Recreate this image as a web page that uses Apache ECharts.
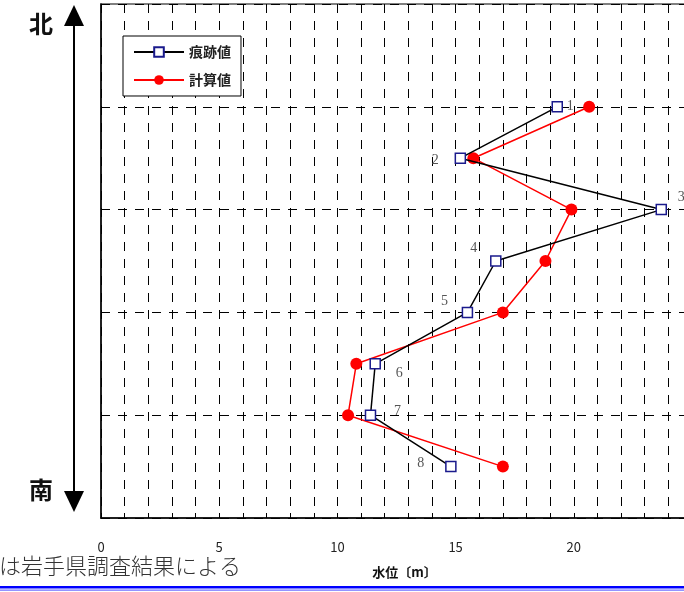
<!DOCTYPE html>
<html>
<head>
<meta charset="utf-8">
<script src="https://cdn.jsdelivr.net/npm/echarts@6/dist/echarts.min.js"></script>
<style>
  html, body { margin: 0; padding: 0; background: #fff; }
  #chart { width: 684px; height: 592px; }
</style>
</head>
<body>
<div id="chart"></div>
<script>
// point numbers (north to south) and their position along the coast
const pointNames = ['1', '2', '3', '4', '5', '6', '7', '8'];
const pointPos = [2, 3, 4, 5, 6, 7, 8, 9];
// water level [m]
const traceValues = [19.3, 15.2, 23.7, 16.7, 15.5, 11.6, 11.4, 14.8];
const calcValues = [20.65, 15.75, 19.9, 18.8, 17.0, 10.8, 10.45, 17.0];
const xTicks = [0, 5, 10, 15, 20];

// where each point number sits relative to its marker
const labelOffsets = [[13, 0], [-25, 2], [20, -12], [-22, -13], [-23, -11], [24, 10], [27, -4], [-30, -3]];

const chart = echarts.init(document.getElementById('chart'));

const dashed = { color: '#000', type: [9, 8], width: 1 };

const option = {
  animation: false,
  textStyle: { fontFamily: '"Noto Sans CJK JP", sans-serif' },
  grid: {
    left: 101, top: 4, right: -8, bottom: 74,
    outerBoundsMode: 'none',
    containLabel: false,
    show: true, borderColor: '#555', borderWidth: 1.5
  },
  legend: {
    orient: 'vertical',
    left: 123, top: 36,
    padding: [9, 10, 9, 10],
    itemWidth: 50, itemHeight: 12, itemGap: 14,
    backgroundColor: '#fff',
    borderColor: '#000', borderWidth: 1,
    textStyle: { fontSize: 14, fontWeight: 'bold', color: '#222' },
    data: ['痕跡値', '計算値']
  },
  xAxis: {
    type: 'value',
    min: 0, max: 25, interval: 5,
    name: '水位〔m〕',
    nameLocation: 'middle',
    nameGap: 48,
    nameTextStyle: { fontSize: 13, fontWeight: 'bold', color: '#111', padding: [0, 0, 0, 16] },
    axisLine: { show: true, onZero: false, lineStyle: { color: '#000', width: 1.5 } },
    axisTick: { show: true, inside: true, length: 5, lineStyle: { color: '#000' } },
    minorTick: { show: true, splitNumber: 5, length: 5, lineStyle: { color: '#000' } },
    axisLabel: {
      margin: 23, fontSize: 13, color: '#222',
      formatter: v => (xTicks.indexOf(v) >= 0 ? String(v) : '')
    },
    splitLine: { show: true, lineStyle: dashed },
    minorSplitLine: { show: true, lineStyle: dashed }
  },
  yAxis: {
    type: 'value',
    inverse: true,
    min: 0, max: 10, interval: 2,
    axisLine: { show: true, onZero: false, lineStyle: { color: '#000', width: 1.5 } },
    axisTick: { show: false },
    minorTick: { show: false },
    axisLabel: { show: false },
    splitLine: { show: true, lineStyle: dashed }
  },
  series: [
    {
      name: '痕跡値',
      type: 'line',
      z: 3,
      data: traceValues.map((v, i) => ({
        value: [v, pointPos[i]],
        label: { offset: labelOffsets[i] }
      })),
      symbol: 'rect',
      symbolSize: 10,
      lineStyle: { color: '#000', width: 1.5 },
      itemStyle: { color: '#fff', borderColor: '#1a1a8c', borderWidth: 1.5 },
      label: {
        show: true,
        position: 'inside',
        formatter: p => pointNames[p.dataIndex],
        fontFamily: '"Liberation Serif", "DejaVu Serif", serif',
        fontSize: 14,
        color: '#555'
      }
    },
    {
      name: '計算値',
      type: 'line',
      z: 2,
      data: calcValues.map((v, i) => [v, pointPos[i]]),
      symbol: 'circle',
      symbolSize: 12,
      lineStyle: { color: '#f00', width: 1.5 },
      itemStyle: { color: '#f00' }
    }
  ],
  graphic: [
    // keep the strip left of the plot clean
    { type: 'rect', shape: { x: 82, y: 30, width: 18, height: 470 }, style: { fill: '#fff' } },
    // north-south arrow at the left
    { type: 'line', shape: { x1: 74, y1: 22, x2: 74, y2: 494 }, style: { stroke: '#000', lineWidth: 2 } },
    { type: 'polygon', shape: { points: [[74, 5], [64, 26], [84, 26]] }, style: { fill: '#000' } },
    { type: 'polygon', shape: { points: [[74, 512], [64, 491], [84, 491]] }, style: { fill: '#000' } },
    { type: 'text', left: 29, top: 12, style: { text: '北', fontSize: 24, fontWeight: 'bold', fill: '#111', fontFamily: '"Noto Sans CJK JP", sans-serif' } },
    { type: 'text', left: 29, top: 478, style: { text: '南', fontSize: 24, fontWeight: 'bold', fill: '#111', fontFamily: '"Noto Sans CJK JP", sans-serif' } },
    // cut-off caption and rule at the bottom
    { type: 'text', left: -1, top: 555, style: { text: 'は岩手県調査結果による', fontSize: 22, fill: '#333', fontFamily: '"Noto Sans CJK JP", sans-serif', fontWeight: 300 } },
    { type: 'rect', shape: { x: 0, y: 586, width: 684, height: 2.5 }, style: { fill: '#0000ff' } },
    { type: 'rect', shape: { x: 0, y: 589.5, width: 684, height: 1.2 }, style: { fill: '#6f6fff' } }
  ]
};

chart.setOption(option);
</script>
</body>
</html>
